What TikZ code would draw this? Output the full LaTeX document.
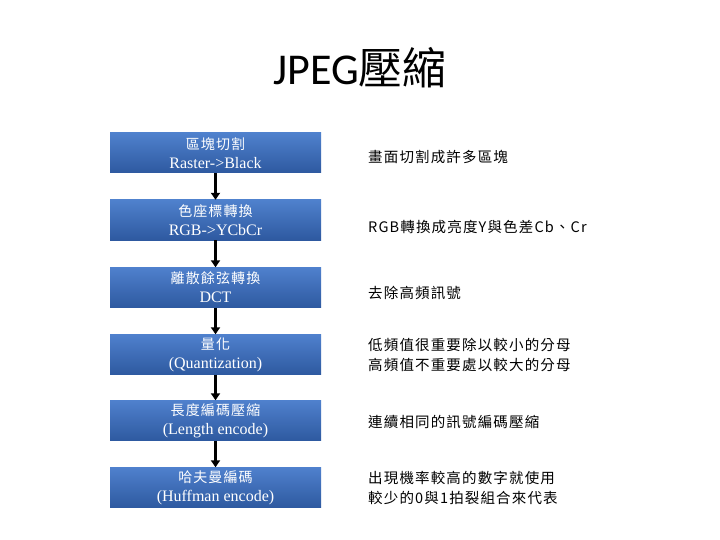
\documentclass[tikz,border=0pt]{standalone}
\usepackage{fontspec}
\setmainfont{Liberation Serif}
\newfontfamily\cjk[LetterSpace=8]{Noto Sans CJK TC}
\newfontfamily\cjktitle{Noto Sans CJK TC}
\newfontfamily\titlefont{Carlito}
\usetikzlibrary{arrows.meta}
\definecolor{boxtop}{RGB}{79,129,205}
\definecolor{boxbot}{RGB}{46,89,160}
\tikzset{
  stagebox/.style={minimum width=211pt, minimum height=40pt, inner sep=0pt,
    top color=boxtop, bottom color=boxbot, draw=none, text=white,
    align=center, font=\fontsize{16}{19}\selectfont},
  desc/.style={anchor=west, inner sep=0pt, align=left,
    font=\cjk\fontsize{14.5}{20}\selectfont},
  flow/.style={line width=3pt, -{Triangle[width=9pt,length=7pt]}}
}
\begin{document}
\begin{tikzpicture}[x=1pt,y=-1pt]
\useasboundingbox (0,0) rectangle (720,540);
\fill[white] (0,0) rectangle (720,540);
\node[font=\fontsize{44}{48}\selectfont] (title) at (360,68) {\titlefont JPEG\cjktitle 壓縮};

\node[stagebox] (b1) at (215.5,153) {{\cjk\fontsize{14}{19}\selectfont 區塊切割}\\Raster->Black};
\node[stagebox] (b2) at (215.5,220) {{\cjk\fontsize{14}{19}\selectfont 色座標轉換}\\RGB->YCbCr};
\node[stagebox] (b3) at (215.5,287.5) {{\cjk\fontsize{14}{19}\selectfont 離散餘弦轉換}\\DCT};
\node[stagebox] (b4) at (215.5,354.5) {{\cjk\fontsize{14}{19}\selectfont 量化}\\(Quantization)};
\node[stagebox] (b5) at (215.5,420.5) {{\cjk\fontsize{14}{19}\selectfont 長度編碼壓縮}\\(Length encode)};
\node[stagebox] (b6) at (215.5,487.5) {{\cjk\fontsize{14}{19}\selectfont 哈夫曼編碼}\\(Huffman encode)};

\draw[flow] (b1.south) -- (b2.north);
\draw[flow] (b2.south) -- (b3.north);
\draw[flow] (b3.south) -- (b4.north);
\draw[flow] (b4.south) -- (b5.north);
\draw[flow] (b5.south) -- (b6.north);

\node[desc] (d1) at (368,157) {畫面切割成許多區塊};
\node[desc] (d2) at (368,227) {RGB轉換成亮度Y與色差Cb、Cr};
\node[desc] (d3) at (368,293) {去除高頻訊號};
\node[desc] (d4) at (368,355) {低頻值很重要除以較小的分母\\高頻值不重要處以較大的分母};
\node[desc] (d5) at (368,422) {連續相同的訊號編碼壓縮};
\node[desc] (d6) at (368,488) {出現機率較高的數字就使用\\較少的0與1拍裂組合來代表};
\end{tikzpicture}
\end{document}
